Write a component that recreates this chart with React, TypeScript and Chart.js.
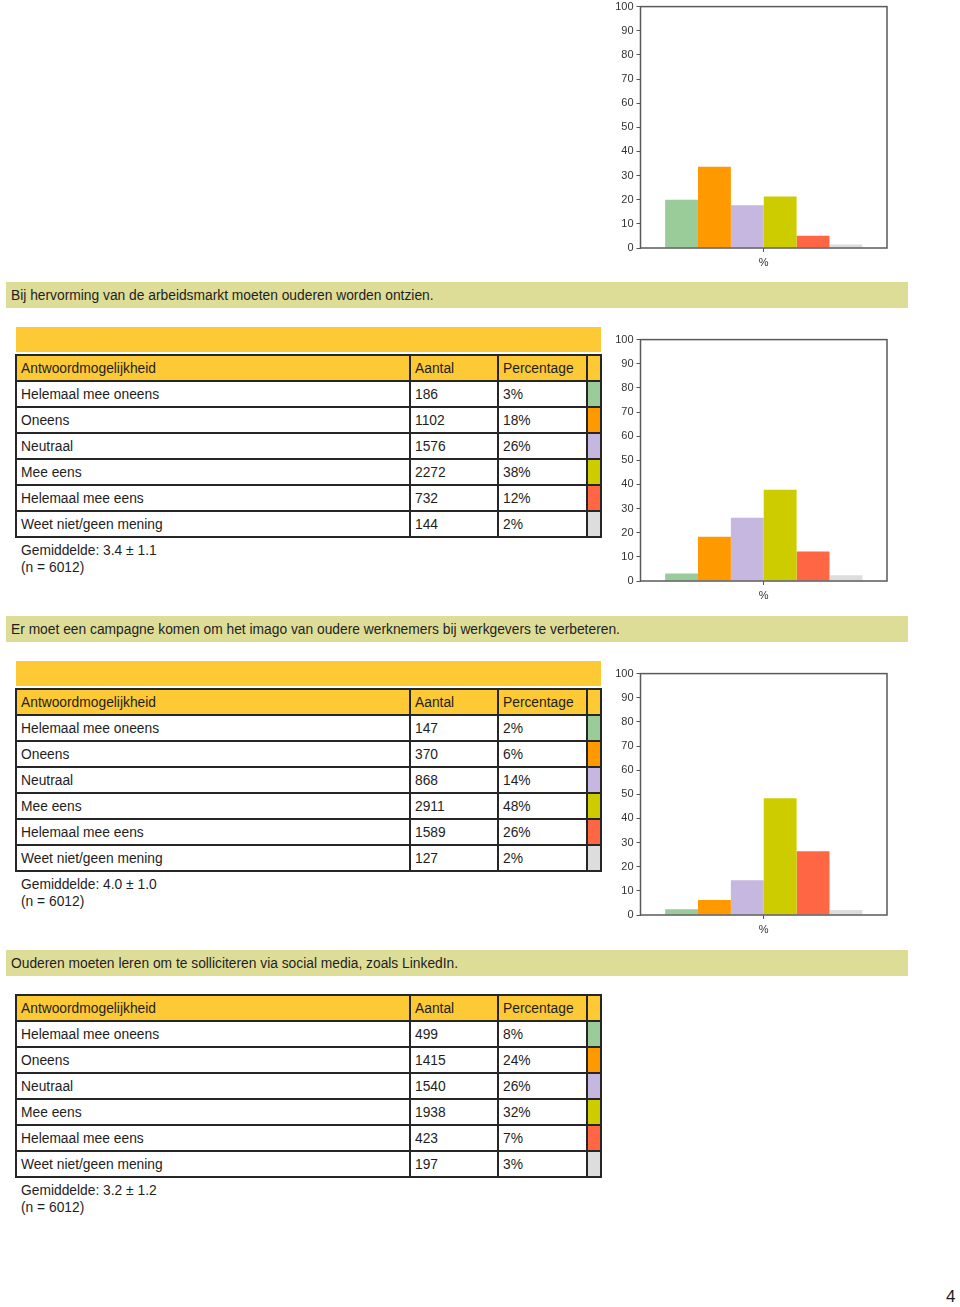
import React, { useEffect, useRef } from "react";
import { Chart, registerables } from "chart.js";

Chart.register(...registerables);

// ---------- DATA ----------
const categories = [
  "Helemaal mee oneens",
  "Oneens",
  "Neutraal",
  "Mee eens",
  "Helemaal mee eens",
  "Weet niet/geen mening",
];
const barColors = ["#99cc99", "#ff9900", "#c6b7e0", "#cccc00", "#ff6644", "#dddddd"];
const xLabels = ["%"];
const yTickStep = 10;

// previous question (chart only, top of page)
const q0Percent = [20.0, 33.7, 17.7, 21.3, 5.1, 1.4];

const q1Title = "Bij hervorming van de arbeidsmarkt moeten ouderen worden ontzien.";
const q1Counts = [186, 1102, 1576, 2272, 732, 144];
const q1PctLabels = ["3%", "18%", "26%", "38%", "12%", "2%"];
const q1Percent = [3.1, 18.3, 26.2, 37.8, 12.2, 2.4];
const q1Mean = "Gemiddelde: 3.4 ± 1.1";

const q2Title = "Er moet een campagne komen om het imago van oudere werknemers bij werkgevers te verbeteren.";
const q2Counts = [147, 370, 868, 2911, 1589, 127];
const q2PctLabels = ["2%", "6%", "14%", "48%", "26%", "2%"];
const q2Percent = [2.4, 6.2, 14.4, 48.4, 26.4, 2.1];
const q2Mean = "Gemiddelde: 4.0 ± 1.0";

const q3Title = "Ouderen moeten leren om te solliciteren via social media, zoals LinkedIn.";
const q3Counts = [499, 1415, 1540, 1938, 423, 197];
const q3PctLabels = ["8%", "24%", "26%", "32%", "7%", "3%"];
const q3Mean = "Gemiddelde: 3.2 ± 1.2";

const nLabel = "(n = 6012)";
const headers = ["Antwoordmogelijkheid", "Aantal", "Percentage"];
const pageNumber = "4";

// ---------- STYLE ----------
const FONT = '"Liberation Sans", Arial, Helvetica, sans-serif';
const TEXT = "#1e1e1e";
const BAND = "#dedd98";
const ORANGE = "#fdc935";
const LINE = "#262626";

function BarChart({ frameTop, values }: { frameTop: number; values: number[] }) {
  const ref = useRef<HTMLCanvasElement | null>(null);
  useEffect(() => {
    if (!ref.current) return;
    const framePlugin = {
      id: "frame",
      afterDatasetsDraw(chart: any) {
        const { ctx, chartArea: a } = chart;
        ctx.save();
        ctx.strokeStyle = "#5a5a5a";
        ctx.lineWidth = 1.5;
        ctx.strokeRect(a.left, a.top, a.right - a.left, a.bottom - a.top);
        ctx.restore();
      },
    };
    const chart = new Chart(ref.current, {
      type: "bar",
      data: {
        labels: xLabels,
        datasets: categories.map((c, i) => ({
          label: c,
          data: [values[i]],
          backgroundColor: barColors[i],
          borderWidth: 0,
          categoryPercentage: 0.8,
          barPercentage: 1,
        })),
      },
      options: {
        responsive: false,
        animation: false,
        devicePixelRatio: 1,
        layout: { padding: { top: 8, right: 13, left: 0, bottom: 0 } },
        plugins: {
          legend: { display: false },
          tooltip: { enabled: false },
          title: { display: false },
        },
        scales: {
          x: {
            grid: {
              offset: false,
              drawOnChartArea: false,
              drawTicks: true,
              tickLength: 4,
              color: "#555",
            },
            border: { display: false },
            ticks: { font: { family: FONT, size: 11 }, color: "#333", padding: 4 },
            afterFit: (s: any) => {
              s.height = 29;
            },
          },
          y: {
            min: 0,
            max: 100,
            grid: {
              drawOnChartArea: false,
              drawTicks: true,
              tickLength: 4,
              color: "#555",
            },
            border: { display: false },
            ticks: {
              stepSize: yTickStep,
              font: { family: FONT, size: 11 },
              color: "#333",
              padding: 3,
            },
            afterFit: (s: any) => {
              s.width = 40.5;
            },
          },
        },
      },
      plugins: [framePlugin],
    } as any);
    return () => chart.destroy();
  }, []);
  return (
    <canvas
      ref={ref}
      width={300}
      height={280}
      style={{ position: "absolute", left: 600, top: frameTop - 8, width: 300, height: 280 }}
    />
  );
}

const cols = [16, 410, 498, 587, 601];
const rowH = 26;

function SurveyTable({
  top,
  counts,
  pcts,
  mean,
}: {
  top: number;
  counts: number[];
  pcts: string[];
  mean: string;
}) {
  const nRows = categories.length + 1;
  const els: any[] = [];
  els.push(
    <div
      key="hdrbg"
      style={{ position: "absolute", left: cols[0], top, width: cols[4] - cols[0], height: rowH, background: ORANGE }}
    />
  );
  categories.forEach((c, i) => {
    els.push(
      <div
        key={"sw" + i}
        style={{
          position: "absolute",
          left: cols[3],
          top: top + (i + 1) * rowH,
          width: cols[4] - cols[3],
          height: rowH,
          background: barColors[i],
        }}
      />
    );
  });
  const rows: string[][] = [headers, ...categories.map((c, i) => [c, String(counts[i]), pcts[i]])];
  rows.forEach((r, ri) => {
    r.forEach((t, ci) => {
      els.push(
        <div
          key={"t" + ri + "_" + ci}
          style={{
            position: "absolute",
            left: cols[ci] + 5,
            top: top + ri * rowH + 1.5,
            height: rowH,
            lineHeight: rowH + "px",
            whiteSpace: "nowrap",
          }}
        >
          {t}
        </div>
      );
    });
  });
  for (let r = 0; r <= nRows; r++) {
    els.push(
      <div
        key={"h" + r}
        style={{
          position: "absolute",
          left: cols[0] - 1,
          top: top + r * rowH - 1,
          width: cols[4] - cols[0] + 2,
          height: 2,
          background: LINE,
        }}
      />
    );
  }
  cols.forEach((x, ci) => {
    els.push(
      <div
        key={"v" + ci}
        style={{
          position: "absolute",
          left: x - 1,
          top: top - 1,
          width: 2,
          height: nRows * rowH + 2,
          background: LINE,
        }}
      />
    );
  });
  els.push(
    <div
      key="mean"
      style={{ position: "absolute", left: 21, top: top + nRows * rowH + 5, lineHeight: "17px", whiteSpace: "nowrap" }}
    >
      <div>{mean}</div>
      <div>{nLabel}</div>
    </div>
  );
  return <>{els}</>;
}

function Band({ top, title }: { top: number; title: string }) {
  return (
    <div
      style={{
        position: "absolute",
        left: 6,
        top,
        width: 902,
        height: 26,
        lineHeight: "28px",
        background: BAND,
        paddingLeft: 5,
        boxSizing: "border-box",
        whiteSpace: "nowrap",
      }}
    >
      {title}
    </div>
  );
}

function OrangeBand({ top }: { top: number }) {
  return (
    <div
      style={{ position: "absolute", left: cols[0], top, width: cols[4] - cols[0], height: 25, background: ORANGE }}
    />
  );
}

export default function App() {
  return (
    <div
      style={{
        position: "absolute",
        left: 0,
        top: 0,
        width: 960,
        height: 1307,
        overflow: "hidden",
        background: "#fff",
        fontFamily: FONT,
        fontSize: 13.8,
        color: TEXT,
      }}
    >
      <BarChart frameTop={5} values={q0Percent} />

      <Band top={282} title={q1Title} />
      <OrangeBand top={327} />
      <SurveyTable top={354.5} counts={q1Counts} pcts={q1PctLabels} mean={q1Mean} />
      <BarChart frameTop={338} values={q1Percent} />

      <Band top={616} title={q2Title} />
      <OrangeBand top={661} />
      <SurveyTable top={688.5} counts={q2Counts} pcts={q2PctLabels} mean={q2Mean} />
      <BarChart frameTop={672} values={q2Percent} />

      <Band top={950} title={q3Title} />
      <SurveyTable top={994.5} counts={q3Counts} pcts={q3PctLabels} mean={q3Mean} />

      <div style={{ position: "absolute", left: 946, top: 1288, fontSize: 17, lineHeight: "18px" }}>{pageNumber}</div>
    </div>
  );
}
